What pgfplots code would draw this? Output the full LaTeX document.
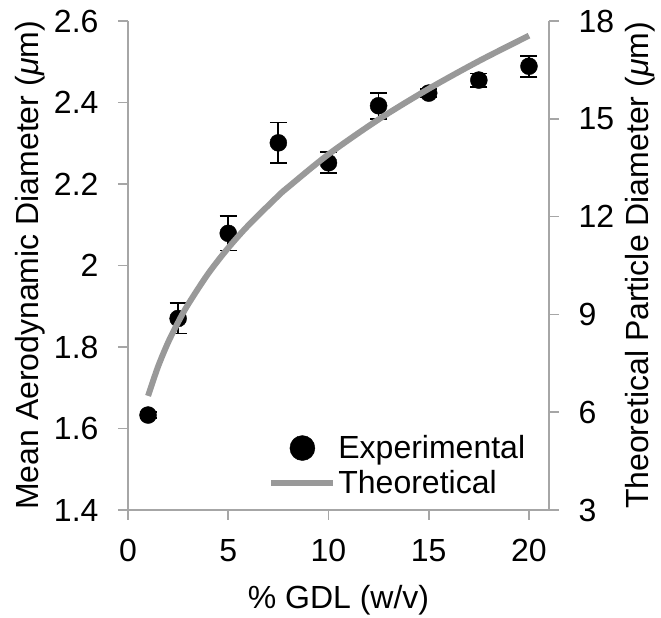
\documentclass[border=0pt]{standalone}
\usepackage{pgfplots}
\pgfplotsset{compat=1.18}
\usepackage{pgfplotstable}
\usepackage{fontspec}
\setmainfont{Liberation Sans}
\definecolor{axisgray}{HTML}{A6A6A6}
\definecolor{curvegray}{HTML}{999999}

\pgfplotstableread{
x y err
1 1.633 0.008
2.5 1.870 0.037
5 2.079 0.042
7.5 2.301 0.050
10 2.252 0.026
12.5 2.392 0.032
15 2.423 0.010
17.5 2.455 0.016
20 2.489 0.026
}\exptable

\pgfplotstableread{
x d
1 6.50
1.5 7.40
2 8.14
2.5 8.76
3 9.31
4 10.25
5 11.04
6 11.73
7.5 12.64
8 12.91
10 13.91
12.5 14.98
15 15.92
17.5 16.77
20 17.55
}\theotable

\begin{document}
\begin{tikzpicture}
\useasboundingbox (0,0) rectangle (661pt,618pt);
\pgfplotsset{
  common/.style={
    scale only axis, width=421pt, height=489pt,
    at={(128pt,108pt)}, anchor=south west,
    xmin=0, xmax=21,
    tick align=outside, major tick length=10pt,
    every tick/.style={axisgray, line width=1.6pt},
    axis line style={axisgray, line width=1.6pt},
    tick label style={font=\fontsize{32}{38}\selectfont, black},
    label style={font=\fontsize{32}{38}\selectfont, black},
    /pgf/number format/assume math mode=true,
  }
}
\begin{axis}[common,
  axis x line*=bottom, axis y line*=left,
  ymin=1.4, ymax=2.6, ytick={1.4,1.6,...,2.6},
  xtick={0,5,10,15,20},
  yticklabels={1.4,1.6,1.8,2,2.2,2.4,2.6},
  yticklabel style={xshift=-16pt},
  xticklabel style={yshift=-16pt},
  xlabel={\% GDL (w/v)},
  xlabel style={at={(axis description cs:0.5,-0.184)}, anchor=center},
  ylabel={Mean Aerodynamic Diameter ({\itshape μ}m)},
  ylabel style={at={(axis description cs:-0.233,0.5)}, anchor=center},
]
\addplot[only marks, mark=*, mark size=8.5pt, black,
  error bars/.cd, y dir=both, y explicit,
  error bar style={black, line width=1.8pt},
  error mark options={black, line width=1.8pt, rotate=90, mark size=8.5pt}]
  table[x=x, y=y, y error=err] {\exptable};
\end{axis}
\begin{axis}[common,
  axis x line=none, axis y line*=right,
  ymin=3, ymax=18, ytick={3,6,9,12,15,18},
  yticklabel style={xshift=16pt},
  ylabel={Theoretical Particle Diameter ({\itshape μ}m)},
  ylabel style={at={(axis description cs:1.216,0.5)}, anchor=center},
  legend cell align=left,
  legend style={draw=none, fill=none, inner sep=0pt, font=\fontsize{32}{38}\selectfont,
    at={(0.333,0.026)}, anchor=south west, row sep=6pt},
]
\addlegendimage{legend image code/.code={\fill[black] (31pt,0pt) circle (12.5pt); \path[draw=none,fill=none] (0pt,0pt) -- (64pt,0pt);}}
\addlegendentry{Experimental}
\addplot[curvegray, line width=6pt, smooth,
  legend image code/.code={\draw[curvegray, line width=6pt] (0pt,0pt) -- (62pt,0pt); \path[draw=none,fill=none] (0pt,0pt) -- (64pt,0pt);}]
  table[x=x, y=d] {\theotable};
\addlegendentry{Theoretical}
\end{axis}
\end{tikzpicture}
\end{document}
